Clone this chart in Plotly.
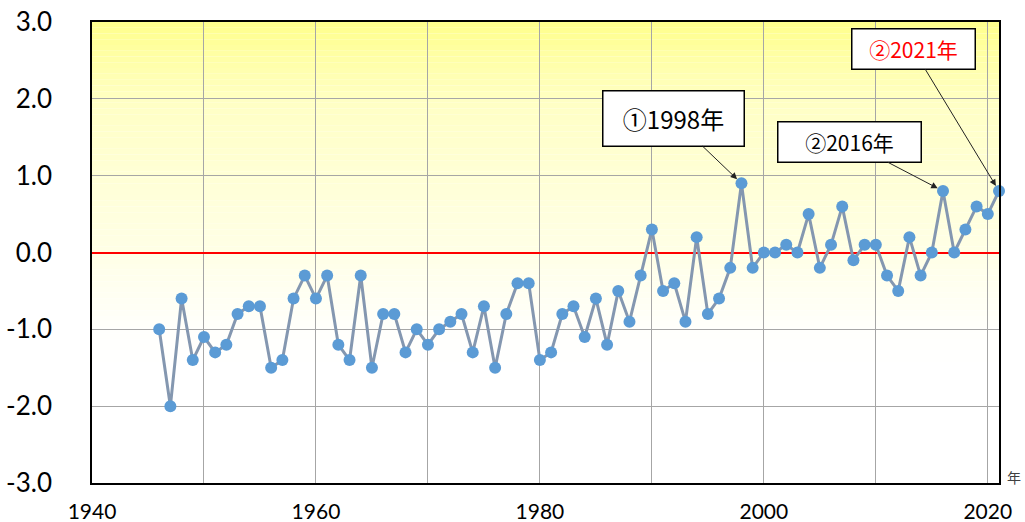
import plotly.graph_objects as go

years = list(range(1946, 2022))
anomaly = [
    -1.0, -2.0, -0.6, -1.4, -1.1, -1.3, -1.2, -0.8, -0.7, -0.7,  # 1946-1955
    -1.5, -1.4, -0.6, -0.3, -0.6, -0.3, -1.2, -1.4, -0.3, -1.5,  # 1956-1965
    -0.8, -0.8, -1.3, -1.0, -1.2, -1.0, -0.9, -0.8, -1.3, -0.7,  # 1966-1975
    -1.5, -0.8, -0.4, -0.4, -1.4, -1.3, -0.8, -0.7, -1.1, -0.6,  # 1976-1985
    -1.2, -0.5, -0.9, -0.3, 0.3, -0.5, -0.4, -0.9, 0.2, -0.8,    # 1986-1995
    -0.6, -0.2, 0.9, -0.2, 0.0, 0.0, 0.1, 0.0, 0.5, -0.2,        # 1996-2005
    0.1, 0.6, -0.1, 0.1, 0.1, -0.3, -0.5, 0.2, -0.3, 0.0,        # 2006-2015
    0.8, 0.0, 0.3, 0.6, 0.5, 0.8,                                # 2016-2021
]

y_ticks = [-3, -2, -1, 0, 1, 2, 3]
y_tick_labels = ["-3.0", "-2.0", "-1.0", "0.0", "1.0", "2.0", "3.0"]
x_ticks = [1940, 1960, 1980, 2000, 2020]

callout_years = [1998, 2016, 2021]
callout_texts = ["①1998年", "②2016年", "②2021年"]

fig = go.Figure()
fig.add_trace(go.Scatter(
    x=years, y=anomaly, mode="lines+markers",
    line=dict(color="#8497B0", width=3),
    marker=dict(color="#5B9BD5", size=12, line=dict(width=0)),
    showlegend=False, hoverinfo="x+y", cliponaxis=False,
))

# vertical yellow-to-white gradient background (styling only)
stops = [(0.0, 140), (0.17, 196), (0.33, 213), (0.5, 230), (0.67, 252), (0.75, 255), (1.0, 255)]
def blue_at(t):
    for (t0, b0), (t1, b1) in zip(stops[:-1], stops[1:]):
        if t0 <= t <= t1:
            return b0 + (b1 - b0) * (t - t0) / (t1 - t0)
    return 255
n = 80
shapes = []
for i in range(n):
    t = (i + 0.5) / n
    b = int(round(blue_at(t)))
    shapes.append(dict(type="rect", xref="x domain", yref="y domain",
                       x0=0, x1=1, y0=1 - (i + 1) / n, y1=1 - i / n,
                       fillcolor=f"rgb(255,255,{b})", line=dict(width=0),
                       layer="below"))

ann_style = [
    dict(ax=-68, ay=-65, width=138, height=52, size=24, color="black"),
    dict(ax=-94, ay=-49, width=140, height=37, size=21, color="black"),
    dict(ax=-86, ay=-142, width=120, height=37, size=21, color="#FF0000"),
]
annotations = []
for yr, txt, st in zip(callout_years, callout_texts, ann_style):
    yv = anomaly[years.index(yr)]
    annotations.append(dict(
        x=yr, y=yv, xref="x", yref="y", text=txt,
        showarrow=True, arrowhead=2, arrowsize=1.3, arrowwidth=1, arrowcolor="#222222",
        standoff=6, ax=st["ax"], ay=st["ay"],
        width=st["width"], height=st["height"],
        bgcolor="white", bordercolor="black", borderwidth=1.5,
        font=dict(family="Noto Sans CJK JP", size=st["size"], color=st["color"]),
    ))
annotations.append(dict(
    x=1, xref="paper", xanchor="left", xshift=6,
    y=-3, yref="y", yanchor="middle", yshift=6,
    text="年", showarrow=False,
    font=dict(family="Noto Sans CJK JP", size=14, color="#404040"),
))

fig.update_layout(
    width=1025, height=522,
    margin=dict(l=92, r=26, t=22, b=39),
    paper_bgcolor="white", plot_bgcolor="rgba(0,0,0,0)",
    shapes=shapes, annotations=annotations,
    xaxis=dict(
        range=[1940, 2021], tickmode="array", tickvals=x_ticks,
        showgrid=True, gridcolor="#A6A6A6", gridwidth=1,
        minor=dict(dtick=10, tick0=1940, showgrid=True, gridcolor="#A6A6A6", gridwidth=1),
        showline=True, mirror=True, linecolor="black", linewidth=1.5,
        ticks="", ticklabelstandoff=9, zeroline=False, automargin=False,
        ticklabeloverflow="allow",
        tickfont=dict(family="Lato", size=21, color="black"),
    ),
    yaxis=dict(
        range=[-3, 3], tickmode="array", tickvals=y_ticks, ticktext=y_tick_labels,
        showgrid=True, gridcolor="#A6A6A6", gridwidth=1,
        zeroline=True, zerolinecolor="#FF0000", zerolinewidth=2,
        showline=True, mirror=True, linecolor="black", linewidth=1.5,
        ticks="", ticklabelstandoff=33, automargin=False,
        ticklabeloverflow="allow",
        tickfont=dict(family="Lato", size=26, color="black"),
    ),
)

# remove the page's default 8px body margin so the figure fills the window exactly
fig.write_html("out.html", config={"displayModeBar": False},
               post_script="document.body.style.margin='0';")
